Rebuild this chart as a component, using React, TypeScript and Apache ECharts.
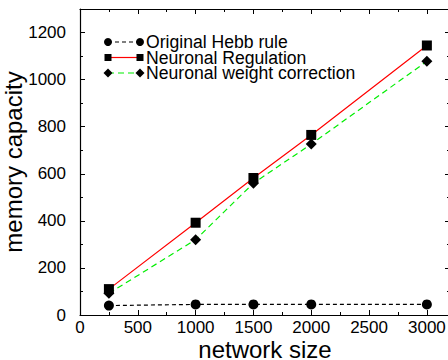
import React, { useEffect, useRef } from "react";
import * as echarts from "echarts";

const networkSizes = [250, 1000, 1500, 2000, 3000];
const hebbValues = [40, 45, 45, 45, 45];
const regulationValues = [110, 392, 582, 765, 1145];
const correctionValues = [92, 320, 560, 726, 1078];
const seriesNames = ["Original Hebb rule", "Neuronal Regulation", "Neuronal weight correction"];

const FONT = "Liberation Sans, Arial, sans-serif";
const X_MAX = 3200;
const Y_MAX = 1300;

function xAxis(position: string, interval: number, len: number, main: boolean, line: boolean) {
  return {
    type: "value",
    position,
    min: 0,
    max: X_MAX,
    interval,
    name: main ? "network size" : "",
    nameLocation: "middle",
    nameGap: 23,
    nameMoveOverlap: false,
    nameTextStyle: { fontFamily: FONT, fontSize: 24, color: "#000", lineHeight: 22 },
    axisLine: { show: line, onZero: false, lineStyle: { color: "#000", width: 1.2 } },
    axisTick: { show: true, inside: true, length: len, lineStyle: { color: "#000", width: 1 } },
    axisLabel: {
      show: main,
      showMaxLabel: false,
      margin: 4,
      fontFamily: FONT,
      fontSize: 17,
      lineHeight: 17,
      color: "#000",
      formatter: (v: number) => String(v),
    },
    splitLine: { show: false },
  };
}

function yAxis(position: string, interval: number, len: number, main: boolean, line: boolean) {
  return {
    type: "value",
    position,
    min: 0,
    max: Y_MAX,
    interval,
    name: main ? "memory capacity" : "",
    nameLocation: "middle",
    nameGap: 55,
    nameMoveOverlap: false,
    nameTextStyle: { fontFamily: FONT, fontSize: 24, color: "#000", lineHeight: 24 },
    axisLine: { show: line, onZero: false, lineStyle: { color: "#000", width: 1.2 } },
    axisTick: { show: true, inside: true, length: len, lineStyle: { color: "#000", width: 1 } },
    axisLabel: {
      show: main,
      showMaxLabel: false,
      margin: 14,
      fontFamily: FONT,
      fontSize: 17,
      color: "#000",
      formatter: (v: number) => String(v),
    },
    splitLine: { show: false },
  };
}

export default function App() {
  const ref = useRef<HTMLDivElement>(null);
  useEffect(() => {
    if (!ref.current) return;
    const chart = echarts.init(ref.current, null, { renderer: "svg" });
    const pairs = (vals: number[]) => networkSizes.map((x, i) => [x, vals[i]]);

    const legendRows = [
      { y: 42, color: "#000", dash: [4, 3], symbol: "circle" },
      { y: 57.5, color: "#ff0000", dash: null, symbol: "square" },
      { y: 73, color: "#00ee00", dash: [6, 4], symbol: "diamond" },
    ];
    const legendGraphics: any[] = [];
    const mk = (kind: string, cx: number, cy: number) => {
      if (kind === "circle") return { type: "circle", shape: { cx, cy, r: 4 }, style: { fill: "#000" }, z: 10 };
      if (kind === "square") return { type: "rect", shape: { x: cx - 3.5, y: cy - 3.5, width: 7, height: 7 }, style: { fill: "#000" }, z: 10 };
      return {
        type: "polygon",
        shape: { points: [[cx, cy - 4.5], [cx + 4.5, cy], [cx, cy + 4.5], [cx - 4.5, cy]] },
        style: { fill: "#000" },
        z: 10,
      };
    };
    legendRows.forEach((r, i) => {
      legendGraphics.push({
        type: "line",
        shape: { x1: 108, y1: r.y, x2: 140, y2: r.y },
        style: { stroke: r.color, lineWidth: 1.2, lineDash: r.dash || undefined },
        z: 9,
      });
      legendGraphics.push(mk(r.symbol, 108, r.y));
      legendGraphics.push(mk(r.symbol, 140, r.y));
      legendGraphics.push({
        type: "text",
        x: 146,
        y: r.y,
        style: {
          text: seriesNames[i],
          fontFamily: FONT,
          fontSize: 17.6,
          lineHeight: 14,
          fill: "#000",
          verticalAlign: "middle",
          align: "left",
        },
        z: 10,
      });
    });

    chart.setOption({
      animation: false,
      backgroundColor: "#fff",
      grid: { left: 80, top: 9, width: 370, height: 306, containLabel: false, outerBoundsMode: "none" },
      xAxis: [
        xAxis("bottom", 500, 5, true, true),
        xAxis("bottom", 250, 3, false, false),
        xAxis("top", 500, 5, false, true),
        xAxis("top", 250, 3, false, false),
      ],
      yAxis: [
        yAxis("left", 200, 5, true, true),
        yAxis("left", 100, 3, false, false),
        yAxis("right", 200, 5, false, true),
        yAxis("right", 100, 3, false, false),
      ],
      series: [
        {
          name: seriesNames[0],
          type: "line",
          data: pairs(hebbValues),
          symbol: "circle",
          symbolSize: 10,
          itemStyle: { color: "#000" },
          lineStyle: { color: "#000", width: 1.2, type: [4, 3] },
        },
        {
          name: seriesNames[1],
          type: "line",
          data: pairs(regulationValues),
          symbol: "rect",
          symbolSize: 10,
          itemStyle: { color: "#000" },
          lineStyle: { color: "#ff0000", width: 1.2, type: "solid" },
        },
        {
          name: seriesNames[2],
          type: "line",
          data: pairs(correctionValues),
          symbol: "diamond",
          symbolSize: 11,
          itemStyle: { color: "#000" },
          lineStyle: { color: "#00ee00", width: 1.2, type: [6, 4] },
        },
      ],
      graphic: legendGraphics,
    });
    return () => chart.dispose();
  }, []);
  return (
    <div
      ref={ref}
      style={{ position: "fixed", left: 0, top: 0, width: 448, height: 360 }}
    />
  );
}
